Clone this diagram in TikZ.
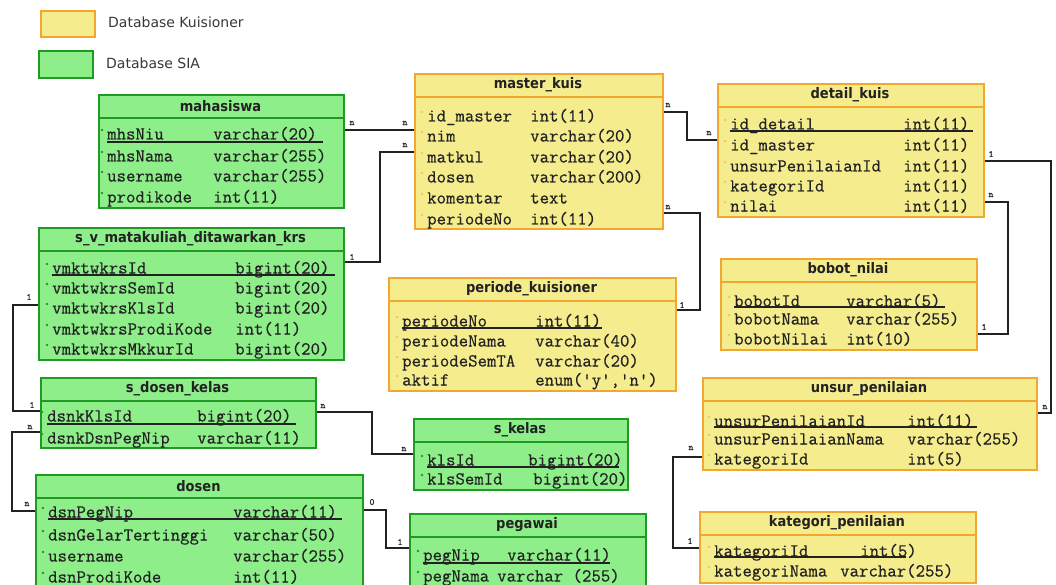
\documentclass[tikz,border=0pt]{standalone}
\usepackage{fontspec}
\newfontfamily\dvs{DejaVu Sans}
\newfontfamily\dvc{DejaVu Sans Condensed}
\newfontfamily\fldf{Latin Modern Mono}[FakeBold=0.5]
\definecolor{yf}{HTML}{F5EC8E}
\definecolor{yb}{HTML}{F2A72E}
\definecolor{gf}{HTML}{8EEE8A}
\definecolor{gb}{HTML}{1F9A22}
\definecolor{ink}{HTML}{222222}
\newcommand\erdbox[7]{%
  \node[#2tab, minimum width={#5-#3}, minimum height={#6-#4}] (#1) at (#3,#4) {};
  \draw[#2edge] (#3,#4+24) -- (#5,#4+24);
  \node[ttl] (#1-t) at ({(#3+#5)/2},#4+12) {#7};
}
\newcommand\erdrow[7]{%
  \fill[#2dot] (#3-5,#5-5) circle (1.3);
  \node[fld] (#1) at (#3,#5) {#6};
  \node[fld] (#1-ty) at (#4,#5) {#7};
}
\begin{document}
\begin{tikzpicture}[x=1pt,y=-1pt,
  ytab/.style={draw=yb, fill=yf, line width=2pt, inner sep=0, anchor=north west},
  gtab/.style={draw=gb, fill=gf, line width=2pt, inner sep=0, anchor=north west},
  yedge/.style={draw=yb, line width=1.6pt},
  gedge/.style={draw=gb, line width=1.6pt},
  ydot/.style={fill=yb!70},
  gdot/.style={fill=gb},
  ttl/.style={font=\dvc\bfseries\fontsize{14.5}{15}\selectfont, text=ink, inner sep=0},
  fld/.style={font=\fldf\fontsize{18.3}{19}\selectfont, text=ink, inner sep=0, anchor=west, text height=12pt, text depth=3pt},
  card/.style={font=\fldf\fontsize{9.5}{9.5}\selectfont, text=ink, inner sep=0},
  leg/.style={font=\dvs\fontsize{14}{15}\selectfont, text=ink!90, inner sep=0, anchor=west},
  rel/.style={draw=ink, line width=2pt},
  pkline/.style={draw=ink, line width=1.2pt}]
\useasboundingbox (0,0) rectangle (1056,585);
\fill[white] (0,0) rectangle (1056,585);

% legend
\node[ytab, minimum width=54, minimum height=26] (legy) at (40,10) {};
\node[leg] (legyt) at (108,22) {Database Kuisioner};
\node[gtab, minimum width=54, minimum height=27] (legg) at (38,50) {};
\node[leg] (leggt) at (106,63) {Database SIA};

% mahasiswa
\erdbox{mhs}{g}{98}{94}{343}{207}{mahasiswa}
\erdrow{mhs1}{g}{107}{213}{135}{mhsNiu}{varchar(20)}
\erdrow{mhs2}{g}{107}{213}{157}{mhsNama}{varchar(255)}
\erdrow{mhs3}{g}{107}{213}{177}{username}{varchar(255)}
\erdrow{mhs4}{g}{107}{213}{198}{prodikode}{int(11)}
\draw[pkline] (107,142) -- (323,142);

% s_v_matakuliah_ditawarkan_krs
\erdbox{svm}{g}{38}{227}{343}{359}{s\_v\_matakuliah\_ditawarkan\_krs}
\erdrow{svm1}{g}{52}{235}{269}{vmktwkrsId}{bigint(20)}
\erdrow{svm2}{g}{52}{235}{289}{vmktwkrsSemId}{bigint(20)}
\erdrow{svm3}{g}{52}{235}{309}{vmktwkrsKlsId}{bigint(20)}
\erdrow{svm4}{g}{52}{235}{330}{vmktwkrsProdiKode}{int(11)}
\erdrow{svm5}{g}{52}{235}{350}{vmktwkrsMkkurId}{bigint(20)}
\draw[pkline] (52,275) -- (335,275);

% s_dosen_kelas
\erdbox{sdk}{g}{40}{377}{315}{447}{s\_dosen\_kelas}
\erdrow{sdk1}{g}{47}{197}{417}{dsnkKlsId}{bigint(20)}
\erdrow{sdk2}{g}{47}{197}{439}{dsnkDsnPegNip}{varchar(11)}
\draw[pkline] (47,424) -- (296,424);

% dosen
\erdbox{dsn}{g}{35}{474}{362}{600}{dosen}
\erdrow{dsn1}{g}{48}{233}{513}{dsnPegNip}{varchar(11)}
\erdrow{dsn2}{g}{48}{233}{536}{dsnGelarTertinggi}{varchar(50)}
\erdrow{dsn3}{g}{48}{233}{557}{username}{varchar(255)}
\erdrow{dsn4}{g}{48}{233}{578}{dsnProdiKode}{int(11)}
\draw[pkline] (48,519) -- (342,519);

% master_kuis
\erdbox{mk}{y}{414}{73}{662}{228}{master\_kuis}
\erdrow{mk1}{y}{427}{530}{117}{id\_master}{int(11)}
\erdrow{mk2}{y}{427}{530}{137}{nim}{varchar(20)}
\erdrow{mk3}{y}{427}{530}{158}{matkul}{varchar(20)}
\erdrow{mk4}{y}{427}{530}{178}{dosen}{varchar(200)}
\erdrow{mk5}{y}{427}{530}{199}{komentar}{text}
\erdrow{mk6}{y}{427}{530}{220}{periodeNo}{int(11)}

% periode_kuisioner
\erdbox{pq}{y}{388}{277}{675}{390}{periode\_kuisioner}
\erdrow{pq1}{y}{402}{535}{322}{periodeNo}{int(11)}
\erdrow{pq2}{y}{402}{535}{342}{periodeNama}{varchar(40)}
\erdrow{pq3}{y}{402}{535}{362}{periodeSemTA}{varchar(20)}
\erdrow{pq4}{y}{402}{535}{381}{aktif}{enum('y','n')}
\draw[pkline] (402,328) -- (602,328);

% s_kelas
\erdbox{sk}{g}{413}{418}{627}{489}{s\_kelas}
\erdrow{sk1}{g}{427}{528}{461}{klsId}{bigint(20)}
\erdrow{sk2}{g}{427}{533}{480}{klsSemId}{bigint(20)}
\draw[pkline] (427,467) -- (619,467);

% pegawai
\erdbox{peg}{g}{409}{513}{645}{600}{pegawai}
\erdrow{peg1}{g}{423}{507}{556}{pegNip}{varchar(11)}
\erdrow{peg2}{g}{423}{497}{577}{pegNama}{varchar (255)}
\draw[pkline] (423,563) -- (610,563);

% detail_kuis
\erdbox{dk}{y}{717}{83}{983}{216}{detail\_kuis}
\erdrow{dk1}{y}{730}{903}{125}{id\_detail}{int(11)}
\erdrow{dk2}{y}{730}{903}{146}{id\_master}{int(11)}
\erdrow{dk3}{y}{730}{903}{167}{unsurPenilaianId}{int(11)}
\erdrow{dk4}{y}{730}{903}{187}{kategoriId}{int(11)}
\erdrow{dk5}{y}{730}{903}{207}{nilai}{int(11)}
\draw[pkline] (730,131) -- (973,131);

% bobot_nilai
\erdbox{bn}{y}{720}{258}{976}{349}{bobot\_nilai}
\erdrow{bn1}{y}{734}{846}{302}{bobotId}{varchar(5)}
\erdrow{bn2}{y}{734}{846}{320}{bobotNama}{varchar(255)}
\erdrow{bn3}{y}{734}{846}{340}{bobotNilai}{int(10)}
\draw[pkline] (734,307) -- (945,307);

% unsur_penilaian
\erdbox{up}{y}{702}{377}{1036}{469}{unsur\_penilaian}
\erdrow{up1}{y}{714}{907}{422}{unsurPenilaianId}{int(11)}
\erdrow{up2}{y}{714}{907}{440}{unsurPenilaianNama}{varchar(255)}
\erdrow{up3}{y}{714}{907}{460}{kategoriId}{int(5)}
\draw[pkline] (714,427) -- (977,427);

% kategori_penilaian
\erdbox{kp}{y}{699}{511}{975}{582}{kategori\_penilaian}
\erdrow{kp1}{y}{714}{860}{552}{kategoriId}{int(5)}
\erdrow{kp2}{y}{714}{840}{572}{kategoriNama}{varchar(255)}
\draw[pkline] (714,557) -- (906,557);

% connector coordinates
\coordinate (c1) at (0,130);
\coordinate (c2a) at (0,262);   \coordinate (c2b) at (380,152);
\coordinate (c3a) at (0,112);   \coordinate (c3b) at (687,140);
\coordinate (c4a) at (0,213);   \coordinate (c4b) at (700,310);
\coordinate (c5a) at (0,161);   \coordinate (c5b) at (1051,413);
\coordinate (c6a) at (0,202);   \coordinate (c6b) at (1008,334);
\coordinate (c7a) at (0,305);   \coordinate (c7b) at (13,411);
\coordinate (c8a) at (0,432);   \coordinate (c8b) at (12,511);
\coordinate (c9a) at (0,412);   \coordinate (c9b) at (372,454);
\coordinate (c10a) at (0,510);  \coordinate (c10b) at (386,548);
\coordinate (c11a) at (0,457);  \coordinate (c11b) at (673,548);

\draw[rel] (mhs.east |- c1) -- (mk.west |- c1);
\draw[rel] (svm.east |- c2a) -| (c2b) -- (mk.west |- c2b);
\draw[rel] (mk.east |- c3a) -| (c3b) -- (dk.west |- c3b);
\draw[rel] (mk.east |- c4a) -| (c4b) -- (pq.east |- c4b);
\draw[rel] (dk.east |- c5a) -| (c5b) -- (up.east |- c5b);
\draw[rel] (dk.east |- c6a) -| (c6b) -- (bn.east |- c6b);
\draw[rel] (svm.west |- c7a) -| (c7b) -- (sdk.west |- c7b);
\draw[rel] (sdk.west |- c8a) -| (c8b) -- (dsn.west |- c8b);
\draw[rel] (sdk.east |- c9a) -| (c9b) -- (sk.west |- c9b);
\draw[rel] (dsn.east |- c10a) -| (c10b) -- (peg.west |- c10b);
\draw[rel] (up.west |- c11a) -| (c11b) -- (kp.west |- c11b);

% cardinalities
\node[card] (k1a) at (352,123) {n};
\node[card] (k1b) at (405,123) {n};
\node[card] (k2a) at (352,257) {1};
\node[card] (k2b) at (405,145) {n};
\node[card] (k3a) at (668,105) {n};
\node[card] (k3b) at (709,133) {n};
\node[card] (k4a) at (668,207) {n};
\node[card] (k4b) at (682,305) {1};
\node[card] (k5a) at (991,154) {1};
\node[card] (k5b) at (1045,407) {n};
\node[card] (k6a) at (991,195) {n};
\node[card] (k6b) at (984,327) {1};
\node[card] (k7a) at (29,297) {1};
\node[card] (k7b) at (32,405) {1};
\node[card] (k8a) at (30,427) {n};
\node[card] (k8b) at (27,504) {n};
\node[card] (k9a) at (323,406) {n};
\node[card] (k9b) at (404,449) {n};
\node[card] (k10a) at (372,502) {0};
\node[card] (k10b) at (400,542) {1};
\node[card] (k11a) at (691,448) {n};
\node[card] (k11b) at (690,541) {1};
\end{tikzpicture}
\end{document}
